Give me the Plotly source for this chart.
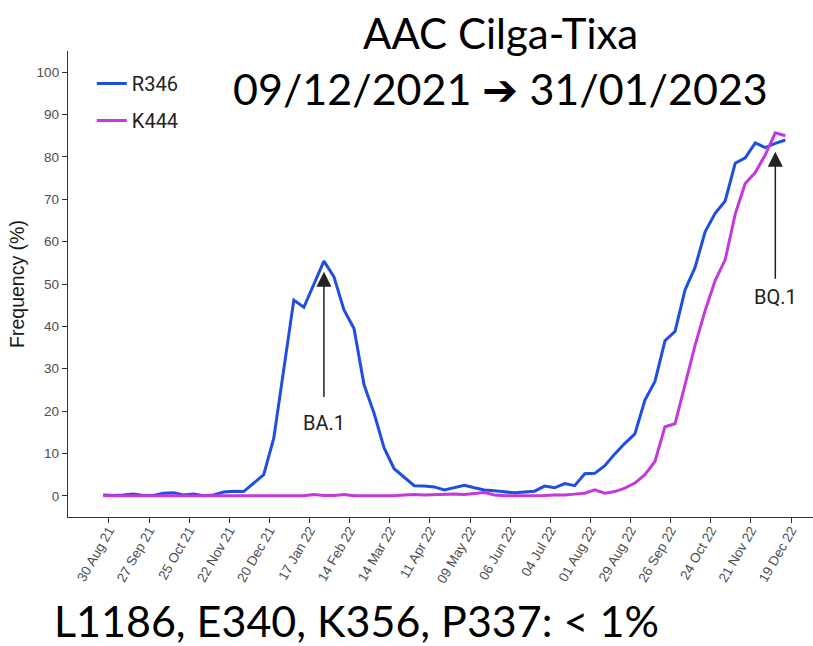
import pandas as pd
import plotly.graph_objects as go

# ---- data ----
start_date = "2021-08-26"
n_weeks = 69
dates = pd.date_range(start_date, periods=n_weeks, freq="7D")

r346 = [0.2, 0.1, 0.2, 0.4, 0.1, 0.1, 0.6, 0.7, 0.2, 0.4,
        0.0, 0.2, 0.9, 1.1, 1.0, 3.0, 5.0, 13.6, 30.0, 46.2,
        44.5, 50.0, 55.4, 51.7, 43.9, 39.5, 26.2, 19.5, 11.3, 6.4,
        4.3, 2.4, 2.3, 2.1, 1.4, 1.9, 2.5, 1.9, 1.4, 1.2,
        1.0, 0.7, 0.9, 1.1, 2.3, 1.9, 2.9, 2.4, 5.2, 5.3,
        7.1, 9.9, 12.4, 14.6, 22.6, 27.0, 36.6, 38.8, 48.6, 53.9,
        62.3, 66.7, 69.6, 78.5, 79.8, 83.3, 82.2, 83.2, 84.0]

k444 = [0.0, 0.0, 0.0, 0.0, 0.0, 0.0, 0.0, 0.0, 0.0, 0.0,
        0.0, 0.0, 0.0, 0.0, 0.0, 0.0, 0.0, 0.0, 0.0, 0.1,
        0.0, 0.3, 0.1, 0.1, 0.3, 0.0, 0.0, 0.0, 0.0, 0.0,
        0.2, 0.3, 0.2, 0.3, 0.3, 0.4, 0.3, 0.5, 0.8, 0.2,
        0.0, 0.0, 0.0, 0.1, 0.1, 0.2, 0.2, 0.4, 0.6, 1.4,
        0.6, 1.0, 1.8, 3.0, 5.0, 8.1, 16.3, 17.0, 26.0, 35.5,
        43.7, 50.8, 55.7, 66.5, 73.7, 76.3, 80.5, 85.7, 85.0]

tick_dates = ["2021-08-30", "2021-09-27", "2021-10-25", "2021-11-22", "2021-12-20",
              "2022-01-17", "2022-02-14", "2022-03-14", "2022-04-11", "2022-05-09",
              "2022-06-06", "2022-07-04", "2022-08-01", "2022-08-29", "2022-09-26",
              "2022-10-24", "2022-11-21", "2022-12-19"]
tick_labels = ["30 Aug 21", "27 Sep 21", "25 Oct 21", "22 Nov 21", "20 Dec 21",
               "17 Jan 22", "14 Feb 22", "14 Mar 22", "11 Apr 22", "09 May 22",
               "06 Jun 22", "04 Jul 22", "01 Aug 22", "29 Aug 22", "26 Sep 22",
               "24 Oct 22", "21 Nov 22", "19 Dec 22"]
y_ticks = [0, 10, 20, 30, 40, 50, 60, 70, 80, 90, 100]

ba1_date, ba1_tip, ba1_tail, ba1_text_y = "2022-01-27", 52.9, 23.0, 17.2
bq1_date, bq1_tip, bq1_tail, bq1_text_y = "2022-12-08", 81.2, 50.9, 46.9

series_names = ["R346", "K444"]
colors = ["#1f4fe0", "#c439dc"]

# ---- figure ----
fig = go.Figure()
for name, vals, col in zip(series_names, [r346, k444], colors):
    fig.add_trace(go.Scatter(x=dates, y=vals, mode="lines", name=name,
                             legendgroup=name,
                             line=dict(color=col, width=3)))

axis_font = dict(family="Liberation Sans, Arial", size=13.5, color="#4d4d4d")

fig.update_layout(
    width=813, height=646,
    margin=dict(l=68, r=0, t=51, b=129),
    paper_bgcolor="white", plot_bgcolor="white",
    showlegend=True,
    legend=dict(x=0.032, y=0.972, xanchor="left", yanchor="top",
                bgcolor="rgba(0,0,0,0)", traceorder="grouped",
                tracegroupgap=8,
                font=dict(family="Roboto, Liberation Sans", size=20, color="#222222")),
    xaxis=dict(range=["2021-08-01 10:00", "2023-01-03 07:00"],
               tickvals=tick_dates, ticktext=tick_labels, tickangle=-60,
               showgrid=False, zeroline=False,
               showline=True, linecolor="#333333", linewidth=1.3,
               ticks="outside", ticklen=5, tickcolor="#333333", tickwidth=1.2,
               ticklabelstandoff=-6,
               tickfont=axis_font),
    yaxis=dict(range=[-5, 105], tickvals=y_ticks,
               showgrid=False, zeroline=False,
               showline=True, linecolor="#333333", linewidth=1.3,
               ticks="outside", ticklen=5, tickcolor="#333333", tickwidth=1.2,
               tickfont=axis_font,
               title=dict(text="Frequency (%)", standoff=6,
                          font=dict(family="Liberation Sans, Arial", size=19.5, color="#1a1a1a"))),
)

arrow_color = "#222222"
for d, tip, tail, ty, label in [(ba1_date, ba1_tip, ba1_tail, ba1_text_y, "BA.1"),
                                (bq1_date, bq1_tip, bq1_tail, bq1_text_y, "BQ.1")]:
    fig.add_annotation(x=d, y=tip, ax=d, ay=tail, axref="x", ayref="y",
                       xref="x", yref="y", text="", showarrow=True,
                       arrowhead=2, arrowsize=2.0, arrowwidth=1.5,
                       arrowcolor=arrow_color)
    fig.add_annotation(x=d, y=ty, xref="x", yref="y", text=label, showarrow=False,
                       font=dict(family="Roboto, Liberation Sans", size=20, color=arrow_color))

fig.add_annotation(x=(500 - 68) / 745, y=(517 - 33) / 466, xref="paper", yref="paper",
                   text="AAC Cilga-Tixa", showarrow=False,
                   font=dict(family="Lato, Open Sans", size=42, color="black"),
                   xanchor="center", yanchor="middle")
fig.add_annotation(x=(500 - 68) / 745, y=(517 - 88) / 466, xref="paper", yref="paper",
                   text="09/12/2021 \u2794 31/01/2023", showarrow=False,
                   font=dict(family="Lato, Open Sans", size=43, color="black"),
                   xanchor="center", yanchor="middle")
fig.add_annotation(x=(356 - 68) / 745, y=(517 - 648) / 466, xref="paper", yref="paper",
                   text="L1186, E340, K356, P337: < 1%", showarrow=False,
                   font=dict(family="Lato, Open Sans", size=43, color="black"),
                   xanchor="center", yanchor="bottom")

fig.write_html("out.html")
